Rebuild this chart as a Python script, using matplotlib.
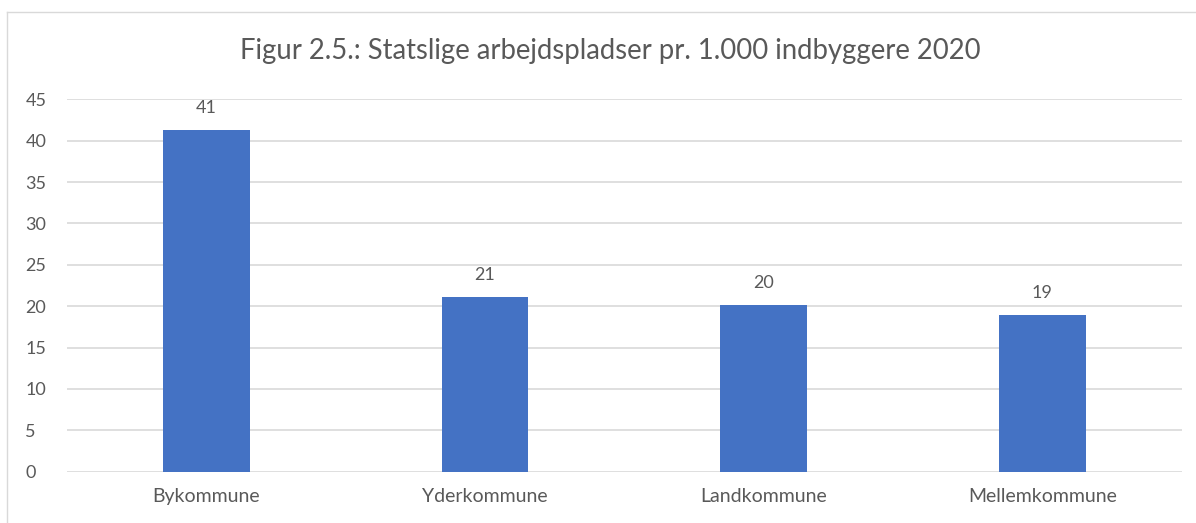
import matplotlib.pyplot as plt
from matplotlib.lines import Line2D

categories = ["Bykommune", "Yderkommune", "Landkommune", "Mellemkommune"]
values = [41.3, 21.1, 20.2, 18.9]
yticks = [0, 5, 10, 15, 20, 25, 30, 35, 40, 45]

plt.rcParams['font.family'] = ['Lato', 'DejaVu Sans']
text_color = "#595959"

fig = plt.figure(figsize=(11.96, 5.23), dpi=100)
ax = fig.add_axes([0.056, 0.098, 0.932, 0.712])

bars = ax.bar(categories, values, width=0.312, color="#4472C4", zorder=3)

for bar, v in zip(bars, values):
    ax.annotate(f"{v:.0f}", (bar.get_x() + bar.get_width() / 2, v),
                xytext=(0, 10), textcoords="offset points",
                ha="center", va="bottom", fontsize=13, color=text_color)

ax.set_ylim(0, 45)
ax.set_xlim(-0.5, len(categories) - 0.5)
ax.set_yticks(yticks)
ax.yaxis.grid(True, color="#D9D9D9", linewidth=1.2, zorder=0)
for s in ax.spines.values():
    s.set_visible(False)
ax.tick_params(axis="y", length=0, labelsize=13, colors=text_color, pad=30)
ax.tick_params(axis="x", length=0, labelsize=14, colors=text_color, pad=12)
for lbl in ax.get_yticklabels():
    lbl.set_horizontalalignment("left")

fig.text(0.51, 0.902, "Figur 2.5.: Statslige arbejdspladser pr. 1.000 indbyggere 2020",
         ha="center", va="center", fontsize=19.8, color=text_color)

# chart frame
fig.add_artist(Line2D([0.006, 0.006], [0.0, 0.977], color="#D9D9D9", linewidth=1))
fig.add_artist(Line2D([0.006, 1.0], [0.977, 0.977], color="#D9D9D9", linewidth=1))

fig.savefig("out.png", dpi=100)
